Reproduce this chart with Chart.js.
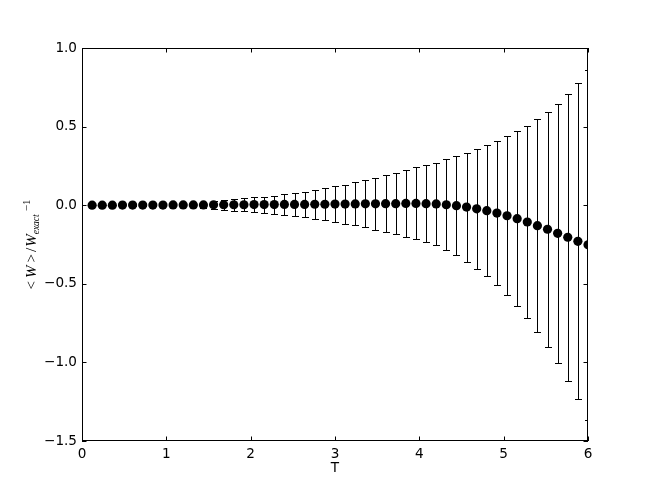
<!DOCTYPE html>
<html>
<head>
<meta charset="utf-8">
<script src="https://cdn.jsdelivr.net/npm/chart.js@4/dist/chart.umd.min.js"></script>
<style>
  html, body { margin: 0; padding: 0; background: #fff; }
  #wrap { width: 654px; height: 491px; }
</style>
</head>
<body>
<div id="wrap"><canvas id="errChart" width="654" height="491"></canvas></div>
<script>
// T values (x)
const tValues = [0.12, 0.24, 0.36, 0.48, 0.60, 0.72, 0.84, 0.96, 1.08, 1.20,
  1.32, 1.44, 1.56, 1.68, 1.80, 1.92, 2.04, 2.16, 2.28, 2.40,
  2.52, 2.64, 2.76, 2.88, 3.00, 3.12, 3.24, 3.36, 3.48, 3.60,
  3.72, 3.84, 3.96, 4.08, 4.20, 4.32, 4.44, 4.56, 4.68, 4.80,
  4.92, 5.04, 5.16, 5.28, 5.40, 5.52, 5.64, 5.76, 5.88, 6.00];

// <W>/W_exact - 1
const meanDev = [0.000, 0.000, 0.000, 0.001, 0.001, 0.001, 0.001, 0.001, 0.002, 0.002,
  0.002, 0.002, 0.003, 0.003, 0.003, 0.003, 0.004, 0.004, 0.004, 0.005,
  0.005, 0.005, 0.006, 0.006, 0.007, 0.007, 0.008, 0.009, 0.009, 0.010,
  0.010, 0.011, 0.011, 0.010, 0.008, 0.003, -0.003, -0.012, -0.023, -0.035,
  -0.050, -0.067, -0.086, -0.107, -0.130, -0.153, -0.179, -0.204, -0.230, -0.252];

// half length of the error bars
const errHalf = [0.001, 0.001, 0.002, 0.002, 0.003, 0.004, 0.005, 0.006, 0.007, 0.009,
  0.012, 0.020, 0.026, 0.033, 0.038, 0.042, 0.046, 0.051, 0.057, 0.065,
  0.073, 0.082, 0.091, 0.102, 0.112, 0.124, 0.137, 0.149, 0.164, 0.179,
  0.194, 0.211, 0.229, 0.245, 0.263, 0.288, 0.315, 0.347, 0.380, 0.418,
  0.460, 0.506, 0.558, 0.613, 0.676, 0.746, 0.824, 0.912, 1.006, 1.115];

const xTicks = [0, 1, 2, 3, 4, 5, 6];
const yTicks = [-1.5, -1.0, -0.5, 0.0, 0.5, 1.0];

const tickFont = { family: "'DejaVu Sans'", size: 13.6 };

// vertical error bars with caps, drawn under the markers
const errorBars = {
  id: "errorBars",
  beforeDatasetsDraw(chart) {
    const { ctx, chartArea, scales: { x, y } } = chart;
    ctx.save();
    ctx.beginPath();
    ctx.rect(chartArea.left, chartArea.top, chartArea.width, chartArea.height);
    ctx.clip();
    ctx.strokeStyle = "#000";
    ctx.lineWidth = 1;
    tValues.forEach((t, i) => {
      const px = Math.round(x.getPixelForValue(t)) + 0.5;
      const hi = Math.round(y.getPixelForValue(meanDev[i] + errHalf[i])) + 0.5;
      const lo = Math.round(y.getPixelForValue(meanDev[i] - errHalf[i])) + 0.5;
      ctx.beginPath();
      ctx.moveTo(px, hi);
      ctx.lineTo(px, lo);
      ctx.moveTo(px - 3.5, hi);
      ctx.lineTo(px + 3.5, hi);
      ctx.moveTo(px - 3.5, lo);
      ctx.lineTo(px + 3.5, lo);
      ctx.stroke();
    });
    ctx.restore();
  },
};

// box around the axes with inward ticks on all four sides
const axesFrame = {
  id: "axesFrame",
  afterDraw(chart) {
    const { ctx, chartArea: a, scales: { x, y } } = chart;
    const len = 4.5;
    ctx.save();
    ctx.strokeStyle = "#000";
    ctx.lineWidth = 1;
    ctx.strokeRect(a.left + 0.5, a.top + 0.5, a.right - a.left - 1, a.bottom - a.top - 1);
    ctx.beginPath();
    xTicks.forEach((v) => {
      const px = Math.round(x.getPixelForValue(v)) + 0.5;
      ctx.moveTo(px, a.bottom);
      ctx.lineTo(px, a.bottom - len);
      ctx.moveTo(px, a.top);
      ctx.lineTo(px, a.top + len);
    });
    yTicks.forEach((v) => {
      const py = Math.round(y.getPixelForValue(v)) + 0.5;
      ctx.moveTo(a.left, py);
      ctx.lineTo(a.left + len, py);
      ctx.moveTo(a.right, py);
      ctx.lineTo(a.right - len, py);
    });
    ctx.stroke();
    ctx.restore();
  },
};

// y axis label: <W>/W_exact ^-1, rotated
const yLabel = {
  id: "yLabel",
  afterDraw(chart) {
    const { ctx, chartArea: a } = chart;
    const cy = (a.top + a.bottom) / 2;
    const main = "15px 'Liberation Serif'";
    const mainIt = "italic 15px 'Liberation Serif'";
    const small = "11px 'Liberation Serif'";
    const smallIt = "italic 9.5px 'Liberation Serif'";
    const parts = [
      { t: "<", f: main, dy: 0, gap: 3 },
      { t: "W", f: mainIt, dy: 0, gap: 3 },
      { t: ">", f: main, dy: 0, gap: 2 },
      { t: "/", f: main, dy: 0, gap: 1 },
      { t: "W", f: mainIt, dy: 0, gap: 0 },
      { t: "exact", f: smallIt, dy: 3, gap: 3 },
      { t: "\u22121", f: small, dy: -6, gap: 0 },
    ];
    ctx.save();
    ctx.fillStyle = "#000";
    ctx.textBaseline = "alphabetic";
    ctx.textAlign = "left";
    let total = 0;
    parts.forEach((p) => {
      ctx.font = p.f;
      p.w = ctx.measureText(p.t).width;
      total += p.w + p.gap;
    });
    ctx.translate(36, cy);
    ctx.rotate(-Math.PI / 2);
    let px = -total / 2;
    parts.forEach((p) => {
      ctx.font = p.f;
      ctx.fillText(p.t, px, p.dy);
      px += p.w + p.gap;
    });
    ctx.restore();
  },
};

const fmtMinus = (v) => v.toFixed(1).replace("-", "\u2212");

new Chart(document.getElementById("errChart"), {
  type: "scatter",
  data: {
    datasets: [
      {
        data: tValues.map((t, i) => ({ x: t, y: meanDev[i] })),
        backgroundColor: "#000",
        borderColor: "#000",
        borderWidth: 0,
        pointRadius: 4.6,
        pointHoverRadius: 4.6,
        clip: 0,
      },
    ],
  },
  options: {
    responsive: false,
    devicePixelRatio: 1,
    animation: false,
    layout: { padding: { left: 0, right: 66, top: 48, bottom: 0 } },
    plugins: { legend: { display: false }, tooltip: { enabled: false } },
    scales: {
      x: {
        type: "linear",
        min: 0,
        max: 6,
        afterFit: (s) => { s.height = 50; },
        afterBuildTicks: (s) => { s.ticks = xTicks.map((v) => ({ value: v })); },
        grid: { display: false, drawTicks: false },
        border: { display: false },
        ticks: {
          color: "#000",
          font: tickFont,
          padding: 5,
          maxRotation: 0,
          callback: (v) => String(v),
        },
        title: {
          display: true,
          text: "T",
          color: "#000",
          font: tickFont,
          padding: { top: 0, bottom: 14 },
        },
      },
      y: {
        type: "linear",
        min: -1.5,
        max: 1.0,
        afterFit: (s) => { s.width = 82; },
        afterBuildTicks: (s) => { s.ticks = yTicks.map((v) => ({ value: v })); },
        grid: { display: false, drawTicks: false },
        border: { display: false },
        ticks: {
          color: "#000",
          font: tickFont,
          padding: 5,
          callback: (v) => fmtMinus(v),
        },
      },
    },
  },
  plugins: [errorBars, axesFrame, yLabel],
});
</script>
</body>
</html>
